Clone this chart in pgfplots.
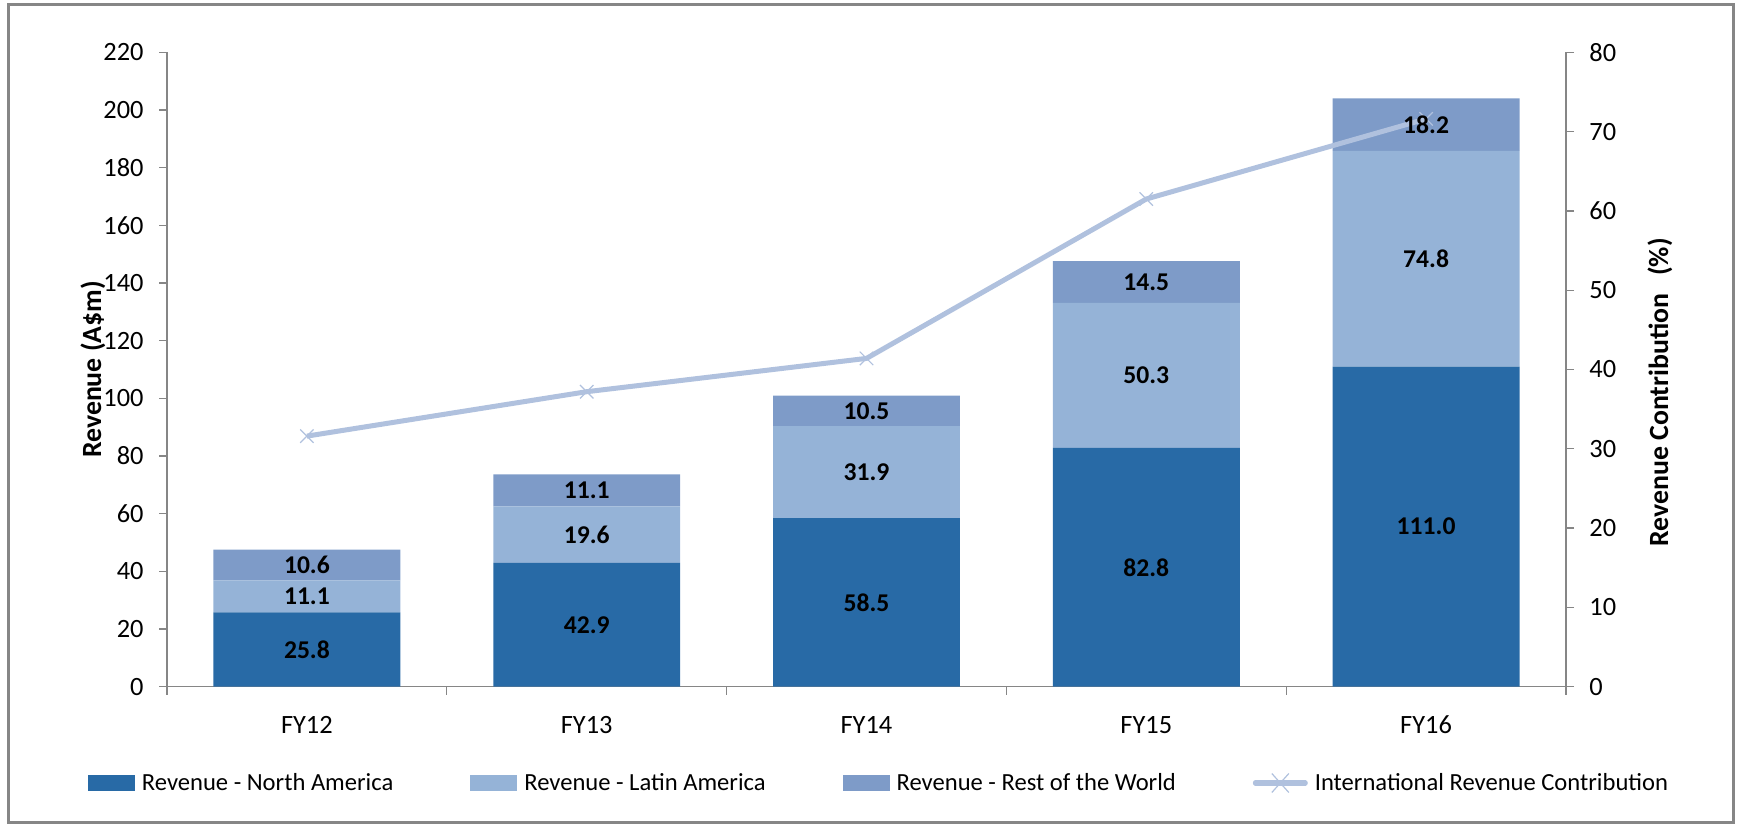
\documentclass[border=0pt]{standalone}
\usepackage{fontspec}
\setmainfont{Carlito}
\usepackage{pgfplots}
\usepackage{pgfplotstable}
\pgfplotsset{compat=1.18}

\definecolor{cNA}{RGB}{40,106,166}
\definecolor{cLA}{RGB}{149,179,215}
\definecolor{cRW}{RGB}{126,155,200}
\definecolor{cLine}{RGB}{176,193,222}
\definecolor{cAxis}{RGB}{134,134,134}

\pgfplotstableread{
x na la rw
0 25.8 11.1 10.6
1 42.9 19.6 11.1
2 58.5 31.9 10.5
3 82.8 50.3 14.5
4 111.0 74.8 18.2
}\revtable

\pgfplotstableread{
x pct
0 31.6
1 37.2
2 41.4
3 61.5
4 71.6
}\pcttable

\newcommand{\tickfont}{\fontsize{13.2bp}{15bp}\selectfont}
\newcommand{\legfont}{\fontsize{12.3bp}{14bp}\selectfont}
\newcommand{\labfont}{\fontsize{12.8bp}{14bp}\selectfont\bfseries}
\newcommand{\axlabfont}{\fontsize{13.9bp}{16bp}\selectfont\bfseries}

\pgfplotsset{
  common/.style={
    at={(83.5bp,71.65bp)}, anchor=south west,
    width=699.5bp, height=317.2bp, scale only axis,
    xmin=-0.5, xmax=4.5,
    /pgf/number format/assume math mode=true,
    tick label style={font=\tickfont},
  },
}

\begin{document}
\begin{tikzpicture}
\useasboundingbox (0,0) rectangle (872bp,415bp);
\draw[cAxis, line width=1.5bp] (4bp,3.5bp) rectangle (866.5bp,412.5bp);

% bars and left axis
\begin{axis}[common,
  ymin=0, ymax=220, ytick={0,20,...,220},
  axis x line*=bottom, axis y line*=left,
  axis line style={cAxis, line width=0.6bp},
  tick style={cAxis, line width=0.6bp},
  tick align=outside, major tick length=4bp,
  xtick={-0.5,0.5,...,4.5}, xticklabels={},
  extra x ticks={0,1,2,3,4},
  extra x tick labels={FY12,FY13,FY14,FY15,FY16},
  extra x tick style={major tick length=0pt,
     tick label style={anchor=base, yshift=-23.3bp, font=\tickfont}},
  yticklabel style={anchor=east, inner sep=0pt, xshift=-7.5bp},
  ylabel={Revenue (A\$m)},
  ylabel style={at={(axis description cs:-0.053,0.5)}, anchor=center,
     font=\axlabfont},
  ybar stacked, bar width=0.668,
  legend columns=4,
  legend style={at={(axis description cs:-0.0565,-0.1518)}, anchor=west,
     draw=none, fill=none, inner sep=0pt, outer sep=0pt,
     font=\legfont,
     nodes={inner sep=0pt, outer sep=0pt},
     /tikz/every odd column/.append style={column sep=3.5bp},
     /tikz/every even column/.append style={column sep=38.5bp}},
  legend cell align=left,
  area legend,
]
\addplot[fill=cNA, draw=none,
  legend image code/.code={\fill[cNA] (0bp,-3.75bp) rectangle (23.5bp,3.75bp);}]
  table[x=x, y=na] {\revtable};
\addlegendentry{Revenue - North America}
\addplot[fill=cLA, draw=none,
  legend image code/.code={\fill[cLA] (0bp,-3.75bp) rectangle (23.5bp,3.75bp);}]
  table[x=x, y=la] {\revtable};
\addlegendentry{Revenue - Latin America}
\addplot[fill=cRW, draw=none,
  legend image code/.code={\fill[cRW] (0bp,-3.75bp) rectangle (23.5bp,3.75bp);}]
  table[x=x, y=rw] {\revtable};
\addlegendentry{Revenue - Rest of the World}
\addlegendimage{legend image code/.code={
   \draw[cLine, line width=2.5bp, line cap=round] (0bp,0bp) -- (25bp,0bp);
   \draw[cLine, line width=0.6bp] (8.25bp,-4.75bp) -- (16.75bp,4.75bp) (8.25bp,4.75bp) -- (16.75bp,-4.75bp);}}
\addlegendentry{International Revenue Contribution}
\end{axis}

% line and right axis
\begin{axis}[common,
  ymin=0, ymax=80, ytick={0,10,...,80},
  axis x line=none, axis y line*=right,
  axis line style={cAxis, line width=0.6bp},
  tick style={cAxis, line width=0.6bp},
  tick align=outside, major tick length=4bp,
  yticklabel style={anchor=west, inner sep=0pt, xshift=7.5bp},
  ylabel={Revenue Contribution\hspace{9bp}(\%)},
  ylabel style={at={(axis description cs:1.0672,0.464)}, anchor=center,
     font=\axlabfont},
]
\addplot[cLine, line width=2.5bp, mark=x, mark size=4.75bp,
  mark options={line width=0.6bp, solid}]
  table[x=x, y=pct] {\pcttable};
\end{axis}

% data labels on top
\begin{axis}[common, hide axis, ymin=0, ymax=220]
\addplot[draw=none, nodes near coords, point meta=explicit symbolic,
  nodes near coords style={anchor=center, font=\labfont, text=black}]
  table[x=x, y expr=\thisrow{na}/2, meta=na] {\revtable};
\addplot[draw=none, nodes near coords, point meta=explicit symbolic,
  nodes near coords style={anchor=center, font=\labfont, text=black}]
  table[x=x, y expr=\thisrow{na}+\thisrow{la}/2, meta=la] {\revtable};
\addplot[draw=none, nodes near coords, point meta=explicit symbolic,
  nodes near coords style={anchor=center, font=\labfont, text=black}]
  table[x=x, y expr=\thisrow{na}+\thisrow{la}+\thisrow{rw}/2, meta=rw] {\revtable};
\end{axis}
\end{tikzpicture}
\end{document}
